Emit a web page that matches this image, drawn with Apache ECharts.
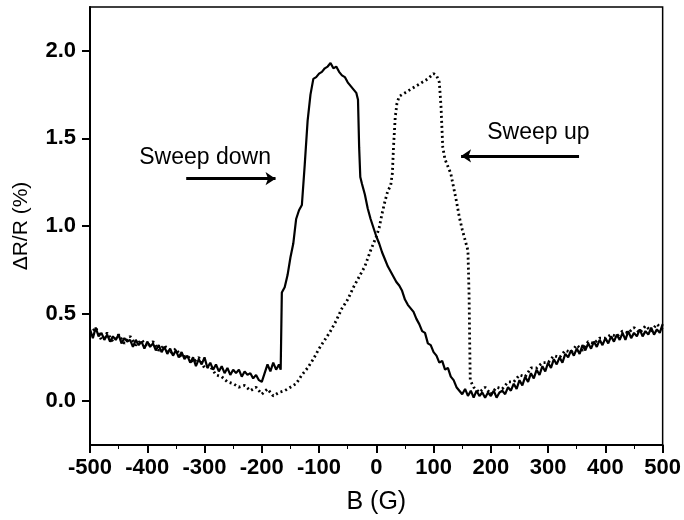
<!DOCTYPE html>
<html>
<head>
<meta charset="utf-8">
<script src="https://cdn.jsdelivr.net/npm/echarts@6/dist/echarts.min.js"></script>
<style>html,body{margin:0;padding:0;background:#fff;}#c{width:684px;height:520px;}</style>
</head>
<body>
<div id="c"></div>
<script>
// Sweep down (solid line)
const downB = [-500,-495,-490,-485,-480,-475,-470,-465,-460,-455,-450,-445,-440,-435,-430,-425,-420,-415,-410,-405,-400,-395,-390,-385,-380,-375,-370,-365,-360,-355,-350,-345,-340,-335,-330,-325,-320,-315,-310,-305,-300,-295,-290,-285,-280,-275,-270,-265,-260,-255,-250,-245,-240,-235,-230,-225,-220,-215,-210,-205,
  -200,-195,-190,-185,-180,-175,-170,-167,-165,-160,-155,-150,-145,-140,-135,-130,-125,-120,-115,-110,-105,-100,-95,-90,-85,-80,-75,-70,-65,-60,-55,-50,-45,-40,-35,-32,-30,-28,-25,-20,-15,-10,-5,0,5,10,15,20,25,30,35,40,45,50,55,60,65,70,75,80,85,90,95,100,105,110,115,120,125,130,135,140,145,150,155,160,165,170,175,180,185,190,195,200,205,210,215,
  220,225,230,235,240,245,250,255,260,265,270,275,280,285,290,295,300,305,310,315,320,325,330,335,340,345,350,355,360,365,370,375,380,385,390,395,400,405,410,415,420,425,430,435,440,445,450,455,460,465,470,475,480,485,490,495,500];
const downR = [0.41,0.36,0.42,0.37,0.39,0.35,0.38,0.34,0.37,0.35,0.38,0.33,0.36,0.34,0.35,0.31,0.35,0.32,0.34,0.30,0.34,0.31,0.33,0.29,0.32,0.28,0.31,0.27,0.30,0.26,0.29,0.25,0.28,0.24,0.26,0.22,0.25,0.20,0.24,0.21,0.25,0.19,0.22,0.18,0.21,0.17,0.20,0.16,0.19,0.15,0.18,0.16,0.18,0.14,0.17,0.15,0.16,0.13,0.15,0.12,
  0.11,0.16,0.21,0.17,0.22,0.18,0.21,0.18,0.62,0.65,0.72,0.82,0.90,1.04,1.09,1.12,1.35,1.60,1.75,1.84,1.85,1.87,1.88,1.90,1.91,1.93,1.90,1.91,1.88,1.86,1.85,1.82,1.80,1.78,1.76,1.72,1.45,1.28,1.24,1.18,1.10,1.04,0.99,0.94,0.90,0.85,0.81,0.77,0.74,0.71,0.68,0.66,0.63,0.58,0.55,0.53,0.51,0.47,0.44,0.40,0.39,0.33,0.32,0.28,0.26,0.22,0.23,0.18,0.19,0.14,0.12,0.08,0.06,0.04,0.07,0.03,0.06,0.02,0.06,0.03,0.05,0.02,0.05,0.03,0.06,0.02,0.05,
  0.06,0.04,0.08,0.06,0.10,0.07,0.12,0.09,0.14,0.11,0.16,0.13,0.18,0.15,0.20,0.17,0.22,0.19,0.24,0.21,0.25,0.22,0.27,0.25,0.29,0.26,0.30,0.27,0.32,0.29,0.33,0.30,0.34,0.31,0.35,0.32,0.36,0.33,0.37,0.34,0.38,0.35,0.39,0.35,0.40,0.36,0.39,0.37,0.41,0.37,0.40,0.38,0.42,0.38,0.41,0.39,0.44];

// Sweep up (dotted line)
const upB = [-500,-490,-480,-470,-460,-450,-440,-430,-420,-410,-400,-390,-380,-370,-360,-350,-340,-330,-320,-310,-300,-290,-280,-270,-260,-250,-240,-230,-220,-210,-200,-190,-180,-170,-160,-150,-140,-130,-120,-110,-100,-90,-80,-70,-60,-50,-40,-30,-20,-10,0,5,10,15,20,25,28,30,33,36,40,50,60,70,80,90,100,105,110,113,116,120,130,140,145,150,155,160,162,163,164,170,180,190,200,210,220,230,240,250,260,270,280,290,300,310,320,330,340,350,360,370,380,390,400,410,420,430,440,450,460,470,480,490,500];
const upR = [0.38,0.42,0.35,0.39,0.34,0.38,0.33,0.37,0.32,0.35,0.31,0.34,0.29,0.32,0.27,0.30,0.25,0.26,0.22,0.25,0.19,0.20,0.15,0.14,0.11,0.10,0.08,0.09,0.06,0.08,0.04,0.07,0.03,0.05,0.06,0.08,0.10,0.15,0.19,0.24,0.30,0.35,0.40,0.46,0.53,0.58,0.65,0.71,0.77,0.86,0.94,0.99,1.07,1.14,1.20,1.23,1.30,1.45,1.62,1.70,1.74,1.76,1.78,1.80,1.82,1.84,1.87,1.86,1.82,1.68,1.45,1.38,1.30,1.14,1.05,0.98,0.92,0.86,0.60,0.35,0.12,0.08,0.05,0.08,0.04,0.08,0.07,0.11,0.11,0.15,0.14,0.19,0.19,0.22,0.22,0.26,0.25,0.29,0.28,0.32,0.29,0.34,0.33,0.36,0.36,0.38,0.37,0.40,0.39,0.42,0.39,0.43,0.40,0.44,0.41];

const xTicks = [-500,-400,-300,-200,-100,0,100,200,300,400,500];
const yTicks = [0.0,0.5,1.0,1.5,2.0];

const labelDown = 'Sweep down';
const labelUp = 'Sweep up';

const pair = (xs, ys) => xs.map((x, i) => [x, ys[i]]);
const tickFont = {fontFamily: '"Liberation Sans Narrow","Liberation Sans",Arial,sans-serif', fontWeight: 'bold', fontSize: 22, color: '#000'};

const chart = echarts.init(document.getElementById('c'), null, {renderer: 'canvas'});
chart.setOption({
  animation: false,
  backgroundColor: '#fff',
  grid: {left: 90, right: 17, top: 7, bottom: 74, show: true, borderColor: '#000', borderWidth: 1.5},
  xAxis: {
    type: 'value', min: -500, max: 500, interval: 100,
    name: 'B (G)', nameLocation: 'middle', nameGap: 45,
    nameTextStyle: {fontFamily: '"Liberation Sans",Arial,sans-serif', fontSize: 25, color: '#000'},
    axisLine: {show: true, onZero: false, lineStyle: {color: '#000', width: 2}},
    axisTick: {show: true, inside: false, length: 8, lineStyle: {color: '#000', width: 2}},
    minorTick: {show: true, splitNumber: 2, length: 4, lineStyle: {color: '#000', width: 1}},
    splitLine: {show: false},
    axisLabel: Object.assign({margin: 12, formatter: v => xTicks.includes(v) ? String(v) : ''}, tickFont)
  },
  yAxis: {
    type: 'value', min: -0.25, max: 2.25,
    name: 'ΔR/R (%)', nameLocation: 'middle', nameGap: 58, nameRotate: 90,
    nameTextStyle: {fontFamily: '"Liberation Sans",Arial,sans-serif', fontSize: 21, color: '#000'},
    axisLine: {show: true, onZero: false, lineStyle: {color: '#000', width: 2}},
    axisTick: {show: true, inside: false, length: 8, customValues: yTicks, lineStyle: {color: '#000', width: 2}},
    splitLine: {show: false},
    axisLabel: Object.assign({margin: 14, customValues: yTicks, formatter: v => v.toFixed(1)}, tickFont)
  },
  series: [
    {
      name: labelDown, type: 'line', data: pair(downB, downR), showSymbol: false, symbol: 'none',
      lineStyle: {color: '#000', width: 2.2},
      z: 3,
      markLine: {
        silent: true, symbol: ['none', 'arrow'], symbolSize: [10, 10],
        lineStyle: {color: '#000', width: 3, type: 'solid'}, label: {show: false},
        data: [[{coord: [-332, 1.27]}, {coord: [-176, 1.27]}]]
      },
      markPoint: {
        silent: true, symbol: 'circle', symbolSize: 0,
        label: {show: true, position: 'inside', color: '#000', fontSize: 23, fontFamily: '"Liberation Sans",Arial,sans-serif'},
        data: [{coord: [-299, 1.39], value: labelDown, label: {formatter: labelDown}}]
      }
    },
    {
      name: labelUp, type: 'line', data: pair(upB, upR), showSymbol: false, symbol: 'none',
      lineStyle: {color: '#000', width: 2.8, type: [2, 3]},
      z: 2,
      markLine: {
        silent: true, symbol: ['none', 'arrow'], symbolSize: [10, 10],
        lineStyle: {color: '#000', width: 3, type: 'solid'}, label: {show: false},
        data: [[{coord: [354, 1.40]}, {coord: [148, 1.40]}]]
      },
      markPoint: {
        silent: true, symbol: 'circle', symbolSize: 0,
        label: {show: true, position: 'inside', color: '#000', fontSize: 23, fontFamily: '"Liberation Sans",Arial,sans-serif'},
        data: [{coord: [283, 1.53], value: labelUp, label: {formatter: labelUp}}]
      }
    }
  ]
});
</script>
</body>
</html>
